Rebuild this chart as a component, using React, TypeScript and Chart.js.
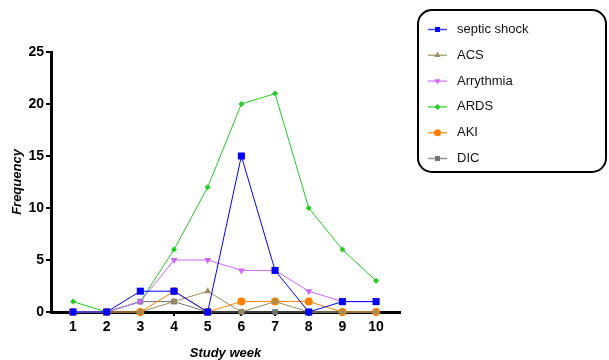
import React, { useEffect, useRef } from "react";
import { Chart, registerables } from "chart.js";

Chart.register(...registerables);

const weeks = [1, 2, 3, 4, 5, 6, 7, 8, 9, 10];
const septicShock = [0, 0, 2, 2, 0, 15, 4, 0, 1, 1];
const acs = [0, 0, 0, 1, 2, 0, 1, 0, 0, 0];
const arrythmia = [0, 0, 1, 5, 5, 4, 4, 2, 1, 1];
const ards = [1, 0, 1, 6, 12, 20, 21, 10, 6, 3];
const aki = [0, 0, 0, 2, 0, 1, 1, 1, 0, 0];
const dic = [0, 0, 1, 1, 0, 0, 0, 0, 0, 0];
const yTicks = [0, 5, 10, 15, 20, 25];

const seriesDefs = [
  { label: "septic shock", data: septicShock, color: "#0000FF", style: "rect", radius: 5, rotation: 0 },
  { label: "ACS", data: acs, color: "#9A8C5C", style: "triangle", radius: 4, rotation: 0 },
  { label: "Arrythmia", data: arrythmia, color: "#CC66FF", style: "triangle", radius: 4, rotation: 180 },
  { label: "ARDS", data: ards, color: "#22CC22", style: "rectRot", radius: 3, rotation: 0 },
  { label: "AKI", data: aki, color: "#FF8000", style: "circle", radius: 4, rotation: 0 },
  { label: "DIC", data: dic, color: "#707070", style: "rect", radius: 4, rotation: 0 },
];

const FONT = "'Liberation Sans', Arial, sans-serif";

function drawMarker(ctx: CanvasRenderingContext2D, style: string, x: number, y: number, r: number, rot: number, color: string) {
  ctx.save();
  ctx.fillStyle = color;
  ctx.beginPath();
  if (style === "rect") {
    const s = r * Math.SQRT1_2;
    ctx.rect(x - s, y - s, 2 * s, 2 * s);
  } else if (style === "rectRot") {
    ctx.moveTo(x, y - r);
    ctx.lineTo(x + r, y);
    ctx.lineTo(x, y + r);
    ctx.lineTo(x - r, y);
    ctx.closePath();
  } else if (style === "circle") {
    ctx.arc(x, y, r, 0, Math.PI * 2);
  } else if (style === "triangle") {
    const d = rot === 180 ? -1 : 1;
    ctx.moveTo(x, y - d * r);
    ctx.lineTo(x + r * 0.866, y + d * r * 0.5);
    ctx.lineTo(x - r * 0.866, y + d * r * 0.5);
    ctx.closePath();
  }
  ctx.fill();
  ctx.restore();
}

const legendPlugin = {
  id: "customLegend",
  afterDraw(chart: any) {
    const ctx = chart.ctx as CanvasRenderingContext2D;
    ctx.save();
    const x0 = 418, y0 = 10, x1 = 606, y1 = 172, rr = 14;
    ctx.lineWidth = 2;
    ctx.strokeStyle = "#000";
    ctx.beginPath();
    ctx.moveTo(x0 + rr, y0);
    ctx.lineTo(x1 - rr, y0);
    ctx.arcTo(x1, y0, x1, y0 + rr, rr);
    ctx.lineTo(x1, y1 - rr);
    ctx.arcTo(x1, y1, x1 - rr, y1, rr);
    ctx.lineTo(x0 + rr, y1);
    ctx.arcTo(x0, y1, x0, y1 - rr, rr);
    ctx.lineTo(x0, y0 + rr);
    ctx.arcTo(x0, y0, x0 + rr, y0, rr);
    ctx.closePath();
    ctx.stroke();
    seriesDefs.forEach((s, i) => {
      const y = 29.5 + i * 25.8;
      ctx.strokeStyle = s.color;
      ctx.globalAlpha = 0.75;
      ctx.lineWidth = 1.5;
      ctx.beginPath();
      ctx.moveTo(428, y);
      ctx.lineTo(447, y);
      ctx.stroke();
      ctx.globalAlpha = 1;
      drawMarker(ctx, s.style, 437.5, y, Math.min(s.radius, 3.5), s.rotation, s.color);
      ctx.fillStyle = "#111";
      ctx.font = `13px ${FONT}`;
      ctx.textBaseline = "middle";
      ctx.textAlign = "left";
      ctx.fillText(s.label, 457, y);
    });
    ctx.restore();
  },
};

export default function App() {
  const ref = useRef<HTMLCanvasElement | null>(null);
  useEffect(() => {
    if (!ref.current) return;
    const chart = new Chart(ref.current, {
      type: "line",
      data: {
        datasets: seriesDefs.map((s) => ({
          label: s.label,
          data: s.data.map((v, i) => ({ x: weeks[i], y: v })),
          borderColor: s.color,
          backgroundColor: s.color,
          borderWidth: 1,
          pointStyle: s.style as any,
          pointRotation: s.rotation,
          pointRadius: s.radius,
          pointBorderWidth: 0,
          pointBackgroundColor: s.color,
          pointBorderColor: s.color,
          tension: 0,
          clip: false as any,
        })),
      },
      options: {
        animation: false,
        responsive: false,
        maintainAspectRatio: false,
        layout: { padding: { top: 52, right: 209, bottom: 0, left: 0 } },
        plugins: { legend: { display: false }, tooltip: { enabled: false } },
        scales: {
          x: {
            type: "linear",
            min: 0.347,
            max: 10.71,
            afterBuildTicks: (scale: any) => {
              scale.ticks = weeks.map((w) => ({ value: w }));
            },
            afterFit: (scale: any) => {
              scale.height = 48;
            },
            border: { display: true, color: "#000", width: 3 },
            grid: { display: true, drawOnChartArea: false, drawTicks: true, tickLength: 4, color: "#000", lineWidth: 2 },
            ticks: {
              color: "#000",
              font: { family: FONT, size: 14, weight: "bold" },
              padding: 3,
              autoSkip: false,
              maxRotation: 0,
              callback: (v: any) => String(v),
            },
            title: {
              display: true,
              text: "Study week",
              color: "#000",
              font: { family: FONT, size: 13, weight: "bold", style: "italic" },
              padding: { top: 0, bottom: -1 },
            },
          },
          y: {
            type: "linear",
            min: 0,
            max: 25,
            afterBuildTicks: (scale: any) => {
              scale.ticks = yTicks.map((v) => ({ value: v }));
            },
            afterFit: (scale: any) => {
              scale.width = 51;
            },
            border: { display: true, color: "#000", width: 3 },
            grid: { display: true, drawOnChartArea: false, drawTicks: true, tickLength: 5, color: "#000", lineWidth: 2 },
            ticks: {
              color: "#000",
              font: { family: FONT, size: 14, weight: "bold" },
              padding: 2,
            },
            title: {
              display: true,
              text: "Frequency",
              color: "#000",
              font: { family: FONT, size: 13, weight: "bold", style: "italic" },
              padding: { top: 10, bottom: 0 },
            },
          },
        },
      },
      plugins: [legendPlugin],
    } as any);
    return () => chart.destroy();
  }, []);
  return (
    <div style={{ position: "absolute", left: 0, top: 0, width: 609, height: 360, background: "#fff" }}>
      <canvas ref={ref} width={609} height={360} style={{ width: 609, height: 360, display: "block" }} />
    </div>
  );
}
